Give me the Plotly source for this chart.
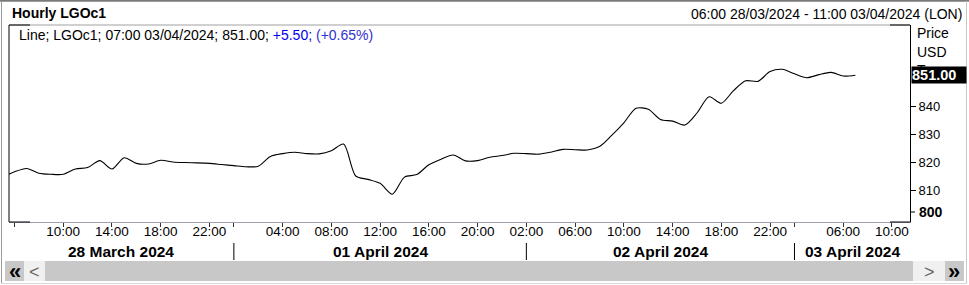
import plotly.graph_objects as go

# ---------------- data ----------------
# hourly bar index (0 = 06:00 28/03/2024; non-trading hours removed)
hour_index = list(range(-1, 70))
prices = [
    814.5,
    816.5, 817.7, 816.0, 815.6, 815.6, 817.5, 818.0, 820.5, 817.5, 821.5,
    819.5, 819.3, 820.6, 820.0, 819.8, 819.7, 819.5, 819.1, 818.7, 818.3,
    818.5, 822.0, 823.0, 823.5, 823.0, 822.9, 824.0, 826.4, 815.0, 813.8,
    812.4, 808.5, 814.6, 815.5, 819.0, 821.0, 822.5, 820.4, 820.5, 821.7,
    822.3, 823.1, 823.0, 822.8, 823.5, 824.5, 824.4, 824.3, 825.5, 829.5,
    834.0, 839.2, 838.8, 835.2, 834.6, 833.2, 837.5, 843.3, 841.0, 845.5,
    849.0, 848.8, 852.3, 853.1, 851.5, 850.1, 851.2, 852.0, 850.7, 851.0,
]
x_tick_pos = [0, 4, 8, 12, 16, 18, 22, 26, 30, 34, 38, 42, 46, 50, 54, 58, 62, 64, 68, 72]
x_tick_text = ["", "10:00", "14:00", "18:00", "22:00", "", "04:00", "08:00", "12:00",
               "16:00", "20:00", "02:00", "06:00", "10:00", "14:00", "18:00", "22:00",
               "", "06:00", "10:00"]
day_labels = ["28 March 2024", "01 April 2024", "02 April 2024", "03 April 2024"]
day_bounds = [-0.45, 18, 42, 64, 73.48]
y_tick_vals = [810, 820, 830, 840]
last_price_label = "851.00"
title_left = "Hourly LGOc1"
title_right = "06:00 28/03/2024 - 11:00 03/04/2024 (LON)"

# ---------------- layout geometry ----------------
W, H = 969, 285
L, R, T, B = 9, 910, 25, 222
FONT = "Liberation Sans, Arial, sans-serif"


def px(x):
    return (x - L) / (R - L)


def py(y):
    return (B - y) / (B - T)


fig = go.Figure()
fig.add_trace(go.Scatter(
    x=hour_index, y=prices, mode="lines",
    line=dict(color="black", width=1.1, shape="spline", smoothing=0.8),
    hoverinfo="skip", showlegend=False,
))

shapes = []
annotations = []

# page frame
shapes.append(dict(type="line", xref="paper", yref="paper", x0=px(0), x1=px(W), y0=py(0.8), y1=py(0.8),
                   line=dict(color="#7a7a7a", width=2)))
shapes.append(dict(type="line", xref="paper", yref="paper", x0=px(1.5), x1=px(1.5), y0=py(1), y1=py(284),
                   line=dict(color="#9a9a9a", width=1)))
shapes.append(dict(type="line", xref="paper", yref="paper", x0=px(966.5), x1=px(966.5), y0=py(1), y1=py(284),
                   line=dict(color="#c8c8c8", width=1)))
shapes.append(dict(type="line", xref="paper", yref="paper", x0=px(1), x1=px(967), y0=py(283.5), y1=py(283.5),
                   line=dict(color="#d8d8d8", width=1)))

# plot frame: gray top line, black corner caps, black left line
shapes.append(dict(type="line", xref="paper", yref="paper", x0=0, x1=1, y0=1, y1=1,
                   line=dict(color="#a0a0a0", width=1)))
for (a, b) in [(0, px(30)), (px(890), 1)]:
    shapes.append(dict(type="line", xref="paper", yref="paper", x0=a, x1=b, y0=1, y1=1,
                       line=dict(color="black", width=1)))
    shapes.append(dict(type="line", xref="paper", yref="paper", x0=a, x1=b, y0=0, y1=0,
                       line=dict(color="black", width=1)))
shapes.append(dict(type="line", xref="paper", yref="paper", x0=0, x1=0, y0=0, y1=1,
                   line=dict(color="black", width=1)))

# 800 tick (shifted up as in the reference)
shapes.append(dict(type="line", xref="paper", yref="paper", x0=1, x1=px(915), y0=py(212), y1=py(212),
                   line=dict(color="black", width=1)))
annotations.append(dict(text="<b>800</b>", xref="paper", yref="paper", x=px(917), y=py(212),
                        xanchor="left", yanchor="middle", showarrow=False,
                        font=dict(family=FONT, size=14, color="black")))

# day separators and labels
for b in day_bounds[1:-1]:
    shapes.append(dict(type="line", xref="x", yref="paper", x0=b, x1=b, y0=py(243), y1=py(260),
                       line=dict(color="black", width=1)))
for i, lab in enumerate(day_labels):
    c = (day_bounds[i] + day_bounds[i + 1]) / 2
    annotations.append(dict(text="<b>%s</b>" % lab, xref="x", yref="paper", x=c, y=py(251.5),
                            xanchor="center", yanchor="middle", showarrow=False,
                            font=dict(family=FONT, size=15.5, color="black")))

# scrollbar
shapes.append(dict(type="rect", xref="paper", yref="paper", x0=px(5), x1=px(24), y0=py(261), y1=py(281),
                   fillcolor="#c8c8c8", line=dict(width=0)))
shapes.append(dict(type="rect", xref="paper", yref="paper", x0=px(24), x1=px(45), y0=py(261), y1=py(281),
                   fillcolor="#f0f0f0", line=dict(width=0)))
shapes.append(dict(type="rect", xref="paper", yref="paper", x0=px(45), x1=px(913), y0=py(261), y1=py(281),
                   fillcolor="#c8c8c8", line=dict(width=0)))
shapes.append(dict(type="rect", xref="paper", yref="paper", x0=px(913), x1=px(945), y0=py(261), y1=py(281),
                   fillcolor="#f0f0f0", line=dict(width=0)))
shapes.append(dict(type="rect", xref="paper", yref="paper", x0=px(945), x1=px(964), y0=py(261), y1=py(281),
                   fillcolor="#c8c8c8", line=dict(width=0)))
for txt, xc, col, sz in [("<b>«</b>", 14.5, "black", 22), ("<", 34.5, "#666666", 18),
                         (">", 929, "#666666", 18), ("<b>»</b>", 954.5, "black", 22)]:
    annotations.append(dict(text=txt, xref="paper", yref="paper", x=px(xc), y=py(271.5),
                            xanchor="center", yanchor="middle", showarrow=False,
                            font=dict(family=FONT, size=sz, color=col)))

# header texts
annotations.append(dict(text="<b>%s</b>" % title_left, xref="paper", yref="paper", x=px(10), y=py(13),
                        xanchor="left", yanchor="middle", showarrow=False,
                        font=dict(family=FONT, size=14, color="black")))
annotations.append(dict(text=title_right, xref="paper", yref="paper", x=px(964), y=py(14),
                        xanchor="right", yanchor="middle", showarrow=False,
                        font=dict(family=FONT, size=14, color="black")))
# legend line
annotations.append(dict(
    text="Line; LGOc1; 07:00 03/04/2024; 851.00; "
         "<span style='color:#0000ee'>+5.50;</span> "
         "<span style='color:#3030d0'>(+0.65%)</span>",
    xref="paper", yref="paper", x=px(17), y=py(35), xanchor="left", yanchor="middle",
    showarrow=False, font=dict(family=FONT, size=14, color="black")))

# y axis title lines and last price box
for txt, yy in [("Price", 33), ("USD", 52), ("T", 70)]:
    annotations.append(dict(text=txt, xref="paper", yref="paper", x=px(915), y=py(yy),
                            xanchor="left", yanchor="middle", showarrow=False,
                            font=dict(family=FONT, size=14, color="black")))
annotations.append(dict(text="<b>%s</b>" % last_price_label, xref="paper", yref="y", x=px(911),
                        y=prices[-1], xanchor="left", yanchor="middle", showarrow=False,
                        bgcolor="black", borderpad=0, width=54, align="left",
                        font=dict(family=FONT, size=14.5, color="white")))

fig.update_layout(
    width=W, height=H,
    margin=dict(l=L, r=W - R, t=T, b=H - B, pad=0),
    paper_bgcolor="white", plot_bgcolor="white",
    showlegend=False,
    shapes=shapes, annotations=annotations,
    xaxis=dict(range=[-0.451, 73.48], showgrid=False, zeroline=False,
               showline=True, linecolor="#a0a0b0", linewidth=1,
               tickmode="array", tickvals=x_tick_pos, ticktext=x_tick_text,
               ticks="outside", ticklen=4, tickcolor="#333333", tickwidth=1,
               ticklabelstandoff=-7,
               tickfont=dict(family=FONT, size=13.5, color="black")),
    yaxis=dict(range=[798.57, 868.93], side="right", showgrid=False, zeroline=False,
               showline=True, linecolor="black", linewidth=1,
               tickmode="array", tickvals=y_tick_vals, ticktext=[str(v) for v in y_tick_vals],
               ticks="outside", ticklen=5, tickcolor="black",
               tickfont=dict(family=FONT, size=13, color="black")),
)

fig.write_html("out.html")
